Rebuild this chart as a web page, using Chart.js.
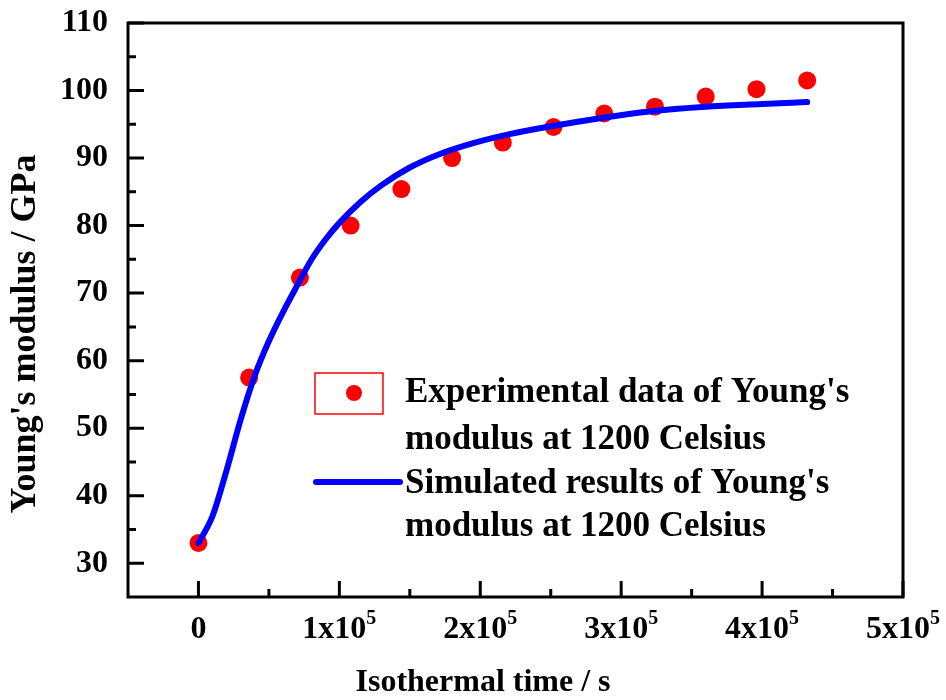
<!DOCTYPE html>
<html>
<head>
<meta charset="utf-8">
<title>Young's modulus vs isothermal time</title>
<script src="https://cdn.jsdelivr.net/npm/chart.js@4/dist/chart.umd.min.js"></script>
<style>
    html, body { margin: 0; padding: 0; background: #ffffff; }
    canvas { display: block; }
</style>
</head>
<body>
<canvas id="modulusChart" width="946" height="700"></canvas>
<script>
// ============================================
// DATA
// ============================================
// Measured modulus, one point every 36000 s (10 h)
const expTime = [0, 36000, 72000, 108000, 144000, 180000, 216000, 252000, 288000, 324000, 360000, 396000, 432000];
const expModulus = [33.0, 57.5, 72.3, 80.0, 85.4, 90.0, 92.3, 94.6, 96.6, 97.6, 99.1, 100.2, 101.5];

// Simulated curve
const simTime = [0, 10000, 20000, 30000, 40000, 50000, 60000, 70000, 80000, 90000, 100000, 115000,
    130000, 150000, 170000, 195000, 220000, 250000, 285000, 320000, 360000, 400000, 432000];
const simModulus = [33.0, 37.0, 43.8, 51.3, 57.8, 62.9, 67.2, 71.1, 74.9, 77.9, 80.4, 83.5,
    86.0, 88.6, 90.5, 92.2, 93.5, 94.7, 95.9, 96.9, 97.6, 98.0, 98.3];

// Axis ticks
const xTickValues = [0, 100000, 200000, 300000, 400000, 500000];
const xTickBase = ["0", "1x10", "2x10", "3x10", "4x10", "5x10"];
const xTickExp = ["", "5", "5", "5", "5", "5"];
const xMinorValues = [50000, 150000, 250000, 350000, 450000];
const yTickValues = [30, 40, 50, 60, 70, 80, 90, 100, 110];
const yMinorValues = [35, 45, 55, 65, 75, 85, 95, 105];

const xTitle = "Isothermal time / s";
const yTitle = "Young's modulus / GPa";
const legendLines = [
    ["Experimental data of Young's", "modulus at 1200 Celsius"],
    ["Simulated results of Young's", "modulus at 1200 Celsius"]
];

const SERIF = "'Liberation Serif', 'Times New Roman', serif";
const RED = "#ff0000";
const BLUE = "#0000ff";

// ============================================
// PLUGINS
// ============================================
// Box frame, inward ticks, x labels with superscript exponents, axis titles
const frameAndTicks = {
    id: "frameAndTicks",
    afterDraw(chart) {
        const { ctx, chartArea: a, scales: { x, y } } = chart;
        ctx.save();
        ctx.strokeStyle = "#000";
        ctx.lineWidth = 3;
        ctx.lineCap = "butt";
        ctx.strokeRect(a.left, a.top, a.right - a.left, a.bottom - a.top);

        ctx.beginPath();
        xTickValues.forEach(v => {
            const px = x.getPixelForValue(v);
            ctx.moveTo(px, a.bottom);
            ctx.lineTo(px, a.bottom - 16);
        });
        xMinorValues.forEach(v => {
            const px = x.getPixelForValue(v);
            ctx.moveTo(px, a.bottom);
            ctx.lineTo(px, a.bottom - 8);
        });
        yTickValues.forEach(v => {
            const py = y.getPixelForValue(v);
            ctx.moveTo(a.left, py);
            ctx.lineTo(a.left + 16, py);
        });
        yMinorValues.forEach(v => {
            const py = y.getPixelForValue(v);
            ctx.moveTo(a.left, py);
            ctx.lineTo(a.left + 8, py);
        });
        ctx.stroke();

        // x tick labels, "1x10" plus a raised "5"
        ctx.fillStyle = "#000";
        ctx.textBaseline = "middle";
        ctx.textAlign = "left";
        const baseFont = "bold 32px " + SERIF;
        const expFont = "bold 20px " + SERIF;
        xTickValues.forEach((v, i) => {
            ctx.font = baseFont;
            const wBase = ctx.measureText(xTickBase[i]).width;
            ctx.font = expFont;
            const wExp = xTickExp[i] ? ctx.measureText(xTickExp[i]).width : 0;
            const startX = x.getPixelForValue(v) - (wBase + wExp) / 2;
            ctx.font = baseFont;
            ctx.fillText(xTickBase[i], startX, a.bottom + 33);
            if (xTickExp[i]) {
                ctx.font = expFont;
                ctx.fillText(xTickExp[i], startX + wBase, a.bottom + 22);
            }
        });

        // axis titles
        ctx.textAlign = "center";
        ctx.font = "bold 32px " + SERIF;
        ctx.fillText(xTitle, 483, 683);
        ctx.save();
        ctx.translate(26, 334);
        ctx.rotate(-Math.PI / 2);
        ctx.font = "bold 36px " + SERIF;
        ctx.fillText(yTitle, 0, 0);
        ctx.restore();

        ctx.restore();
    }
};

// Legend drawn inside the plot, two lines of text per entry
const boxLegend = {
    id: "boxLegend",
    afterDraw(chart) {
        const { ctx } = chart;
        ctx.save();

        // marker for the measured points
        ctx.strokeStyle = RED;
        ctx.lineWidth = 1.5;
        ctx.strokeRect(315, 373, 68, 41);
        ctx.fillStyle = RED;
        ctx.beginPath();
        ctx.arc(354, 393, 8, 0, Math.PI * 2);
        ctx.fill();

        // marker for the simulated curve
        ctx.strokeStyle = BLUE;
        ctx.lineWidth = 6;
        ctx.lineCap = "round";
        ctx.beginPath();
        ctx.moveTo(316, 482);
        ctx.lineTo(400, 482);
        ctx.stroke();

        ctx.fillStyle = "#000";
        ctx.font = "bold 35px " + SERIF;
        ctx.textAlign = "left";
        ctx.textBaseline = "middle";
        const rows = [393, 440, 484, 527];
        legendLines.flat().forEach((text, i) => {
            ctx.fillText(text, 405, rows[i]);
        });
        ctx.restore();
    }
};

// ============================================
// CHART
// ============================================
const ctx = document.getElementById("modulusChart").getContext("2d");
new Chart(ctx, {
    type: "scatter",
    data: {
        datasets: [
            {
                label: legendLines[0].join(" "),
                data: expTime.map((t, i) => ({ x: t, y: expModulus[i] })),
                backgroundColor: RED,
                borderColor: RED,
                pointRadius: 9,
                pointBorderWidth: 0,
                order: 1
            },
            {
                label: legendLines[1].join(" "),
                type: "line",
                data: simTime.map((t, i) => ({ x: t, y: simModulus[i] })),
                borderColor: BLUE,
                borderWidth: 6,
                borderCapStyle: "round",
                borderJoinStyle: "round",
                pointRadius: 0,
                fill: false,
                cubicInterpolationMode: "monotone",
                order: 0
            }
        ]
    },
    options: {
        responsive: false,
        animation: false,
        devicePixelRatio: 1,
        layout: { padding: { top: 23, right: 43, left: 0, bottom: 0 } },
        plugins: {
            legend: { display: false },
            tooltip: { enabled: false }
        },
        scales: {
            x: {
                type: "linear",
                min: -50000,
                max: 500000,
                grid: { display: false, drawTicks: false },
                border: { display: false },
                ticks: { display: false },
                afterBuildTicks: s => { s.ticks = xTickValues.map(v => ({ value: v })); },
                afterFit: s => { s.height = 103; s.paddingLeft = 0; s.paddingRight = 0; }
            },
            y: {
                type: "linear",
                min: 25,
                max: 110,
                grid: { display: false, drawTicks: false },
                border: { display: false },
                afterBuildTicks: s => { s.ticks = yTickValues.map(v => ({ value: v })); },
                afterFit: s => { s.width = 128; s.paddingTop = 0; s.paddingBottom = 0; },
                ticks: {
                    color: "#000",
                    padding: 20,
                    font: { family: SERIF, size: 32, weight: "bold", lineHeight: 1 }
                }
            }
        }
    },
    plugins: [frameAndTicks, boxLegend]
});
</script>
</body>
</html>
